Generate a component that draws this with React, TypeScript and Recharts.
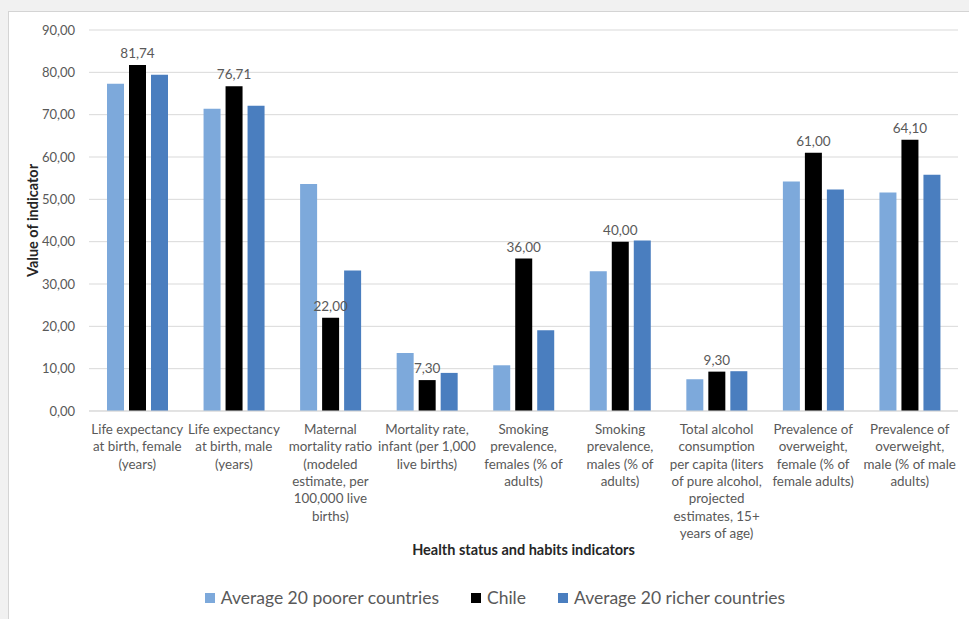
import React from "react";
import { Bar, BarChart, CartesianGrid, LabelList, Legend, XAxis, YAxis } from "recharts";

const categories = [
  "Life expectancy\nat birth, female\n(years)",
  "Life expectancy\nat birth, male\n(years)",
  "Maternal\nmortality ratio\n(modeled\nestimate, per\n100,000 live\nbirths)",
  "Mortality rate,\ninfant (per 1,000\nlive births)",
  "Smoking\nprevalence,\nfemales (% of\nadults)",
  "Smoking\nprevalence,\nmales (% of\nadults)",
  "Total alcohol\nconsumption\nper capita (liters\nof pure alcohol,\nprojected\nestimates, 15+\nyears of age)",
  "Prevalence of\noverweight,\nfemale (% of\nfemale adults)",
  "Prevalence of\noverweight,\nmale (% of male\nadults)",
];

const poorer = [77.3, 71.4, 53.6, 13.7, 10.8, 33.0, 7.5, 54.2, 51.6];
const chile = [81.74, 76.71, 22.0, 7.3, 36.0, 40.0, 9.3, 61.0, 64.1];
const richer = [79.4, 72.1, 33.2, 9.0, 19.1, 40.3, 9.4, 52.3, 55.8];

const yTicks = [0, 10, 20, 30, 40, 50, 60, 70, 80, 90];

const series = [
  { key: "poorer", name: "Average 20 poorer countries", color: "#7DA9DB" },
  { key: "chile", name: "Chile", color: "#000000" },
  { key: "richer", name: "Average 20 richer countries", color: "#4A7EBF" },
];

const data = categories.map((label, i) => ({
  label,
  poorer: poorer[i],
  chile: chile[i],
  richer: richer[i],
}));

const FONT = "Lato, 'Noto Sans', sans-serif";
const TEXT = "#595959";

const fmt = (v: number) => v.toFixed(2).replace(".", ",");

function CategoryTick(props: any) {
  const { x, y, payload } = props;
  const lines = String(payload.value).split("\n");
  return (
    <text x={x} y={y} textAnchor="middle" fill={TEXT} fontSize={13.4} fontFamily={FONT}>
      {lines.map((line: string, i: number) => (
        <tspan key={i} x={x} dy={i === 0 ? 15 : 17.3}>
          {line}
        </tspan>
      ))}
    </text>
  );
}

function LegendContent() {
  return (
    <div
      style={{
        display: "flex",
        justifyContent: "center",
        gap: 32,
        paddingTop: 3,
        paddingLeft: 12,
        fontFamily: FONT,
        fontSize: 17.5,
        color: TEXT,
      }}
    >
      {series.map((s) => (
        <span key={s.key} style={{ display: "flex", alignItems: "center" }}>
          <span style={{ width: 10, height: 10, background: s.color, marginRight: 6, display: "inline-block" }} />
          {s.name}
        </span>
      ))}
    </div>
  );
}

export default function App() {
  return (
    <div style={{ position: "fixed", left: 0, top: 0, width: 969, height: 619, background: "#F1F1F1" }}>
      <div
        style={{
          position: "absolute",
          left: 8,
          top: 11,
          width: 970,
          height: 620,
          background: "#fff",
          border: "1px solid #D4D4D4",
        }}
      />
      <div style={{ position: "absolute", left: 0, top: 0 }}>
        <BarChart
          width={969}
          height={619}
          data={data}
          margin={{ top: 30, right: 11, bottom: 11, left: 20 }}
          barSize={17}
          barGap={5}
        >
          <CartesianGrid vertical={false} stroke="#D9D9D9" />
          <XAxis
            dataKey="label"
            interval={0}
            tickLine={false}
            axisLine={{ stroke: "#D9D9D9" }}
            height={173}
            tick={<CategoryTick />}
            label={{
              value: "Health status and habits indicators",
              position: "insideBottom",
              offset: 29,
              fill: "#262626",
              fontSize: 14.5,
              fontWeight: 700,
              fontFamily: FONT,
            }}
          />
          <YAxis
            width={69}
            domain={[0, 90]}
            ticks={yTicks}
            tickFormatter={fmt}
            tickLine={false}
            axisLine={false}
            tickMargin={8}
            tick={{ fill: TEXT, fontSize: 13, fontFamily: FONT }}
            label={{
              value: "Value of indicator",
              angle: -90,
              position: "insideLeft",
              offset: 13,
              fill: "#262626",
              fontSize: 14.5,
              fontWeight: 700,
              fontFamily: FONT,
              style: { textAnchor: "middle" },
            }}
          />
          <Legend verticalAlign="bottom" height={24} content={<LegendContent />} />
          {series.map((s) => (
            <Bar key={s.key} dataKey={s.key} name={s.name} fill={s.color} isAnimationActive={false}>
              {s.key === "chile" && (
                <LabelList
                  dataKey="chile"
                  position="top"
                  offset={7}
                  formatter={(v: any) => fmt(Number(v))}
                  fill={TEXT}
                  fontSize={13.5}
                  fontFamily={FONT}
                />
              )}
            </Bar>
          ))}
        </BarChart>
      </div>
    </div>
  );
}
